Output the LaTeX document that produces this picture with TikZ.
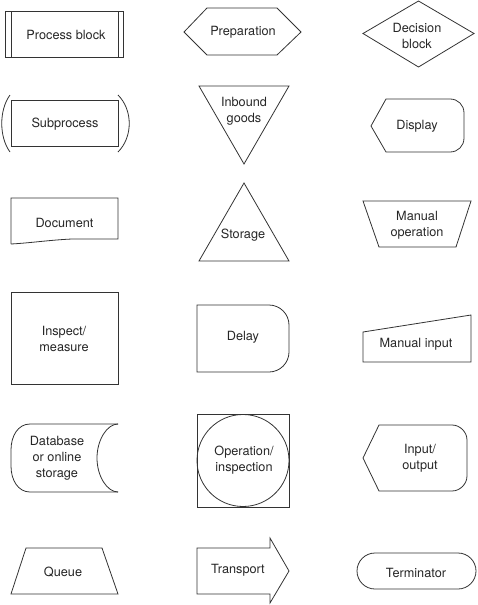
\documentclass[tikz,border=0pt]{standalone}
\usepackage{fontspec}
\setmainfont{TeX Gyre Heros}
\begin{document}
\begin{tikzpicture}[x=1pt,y=-1pt,
  shp/.style={draw=black!80,line width=0.8pt,line join=miter},
  lbl/.style={inner sep=0pt,align=center,text=black!85,font=\fontsize{12.7}{16}\selectfont}]
\useasboundingbox (0,0) rectangle (477,605);
% Process block
\draw[shp] (5,11) rectangle (123,57);
\draw[shp] (11,11) -- (11,57);
\draw[shp] (118,11) -- (118,57);
\node[lbl] (proc) at (66,35) {Process block};
% Subprocess
\draw[shp] (11,100) rectangle (118,146);
\draw[shp] (10,95) .. controls (-1,110) and (-1,137) .. (10,152);
\draw[shp] (118,95) .. controls (133,110) and (133,137) .. (118,152);
\node[lbl] (sub) at (65,124.5) {Subprocess};
% Preparation
\draw[shp] (184,32) -- (207,8) -- (277,8) -- (301,32) -- (277,55) -- (207,55) -- cycle;
\node[lbl] (prep) at (243,32.5) {Preparation};
% Inbound goods
\draw[shp] (199,86) -- (289,86) -- (244,164) -- cycle;
\node[lbl] (inb) at (244,111.5) {Inbound\\goods};
% Decision
\draw[shp] (363,33.5) -- (418.5,1) -- (474,33.5) -- (418.5,67) -- cycle;
\node[lbl] (dec) at (417,35.5) {Decision\\block};
% Display
\draw[shp] (371,126) -- (386,99) -- (450,99) .. controls (458,99) and (464,105) .. (464,113)
  -- (464,138) .. controls (464,146) and (458,152) .. (450,152) -- (386,152) -- cycle;
\node[lbl] (disp) at (417,126.5) {Display};
% Document
\draw[shp] (11,244) -- (11,198) -- (118,198) -- (118,239) -- (72,239)
  .. controls (50,240) and (30,243) .. (11,244);
\node[lbl] (doc) at (64.5,223) {Document};
% Storage
\draw[shp] (244,183) -- (289,261) -- (199,261) -- cycle;
\node[lbl] (stor) at (243,235.5) {Storage};
% Manual operation
\draw[shp] (363,201) -- (471,201) -- (456,247) -- (379,247) -- cycle;
\node[lbl] (manop) at (417,225.5) {Manual\\operation};
% Inspect / measure
\draw[shp] (11,292) rectangle (118,384);
\node[lbl] (insp) at (64,338.5) {Inspect/\\measure};
% Delay
\draw[shp] (197,305) -- (269,305) .. controls (280,305) and (289,314) .. (289,325)
  -- (289,352) .. controls (289,363) and (280,372) .. (269,372) -- (197,372) -- cycle;
\node[lbl] (delay) at (243,337.5) {Delay};
% Manual input
\draw[shp] (363,332) -- (471,315) -- (471,362) -- (363,362) -- cycle;
\node[lbl] (manin) at (416,344.5) {Manual input};
% Database
\draw[shp] (118,424) -- (30,424) .. controls (18,424) and (11,436) .. (11,450) -- (11,466)
  .. controls (11,480) and (18,492) .. (30,492) -- (118,492);
\draw[shp] (118,424) .. controls (107,424) and (97,440) .. (97,458)
  .. controls (97,476) and (107,492) .. (118,492);
\node[lbl] (db) at (57,458.5) {Database\\or online\\storage};
% Operation / inspection
\draw[shp] (197,414) rectangle (289,507);
\draw[shp] (243,460.5) circle[radius=46];
\node[lbl] (opins) at (244,460.5) {Operation/\\inspection};
% Input / output
\draw[shp] (363,458) -- (379,425) -- (452,425) .. controls (460,425) and (467,432) .. (467,440)
  -- (467,476) .. controls (467,484) and (460,491) .. (452,491) -- (379,491) -- cycle;
\node[lbl] (io) at (420,458.5) {Input/\\output};
% Queue
\draw[shp] (26,548) -- (102,548) -- (118,594) -- (11,594) -- cycle;
\node[lbl] (queue) at (63,572.5) {Queue};
% Transport
\draw[shp] (197,548) -- (270,548) -- (270,538) -- (289,571) -- (270,603) -- (270,594) -- (197,594) -- cycle;
\node[lbl] (trans) at (238,570.5) {Transport};
% Terminator
\draw[shp,rounded corners=18] (357,553) rectangle (476,589);
\node[lbl] (term) at (416,572.5) {Terminator};
\end{tikzpicture}
\end{document}
